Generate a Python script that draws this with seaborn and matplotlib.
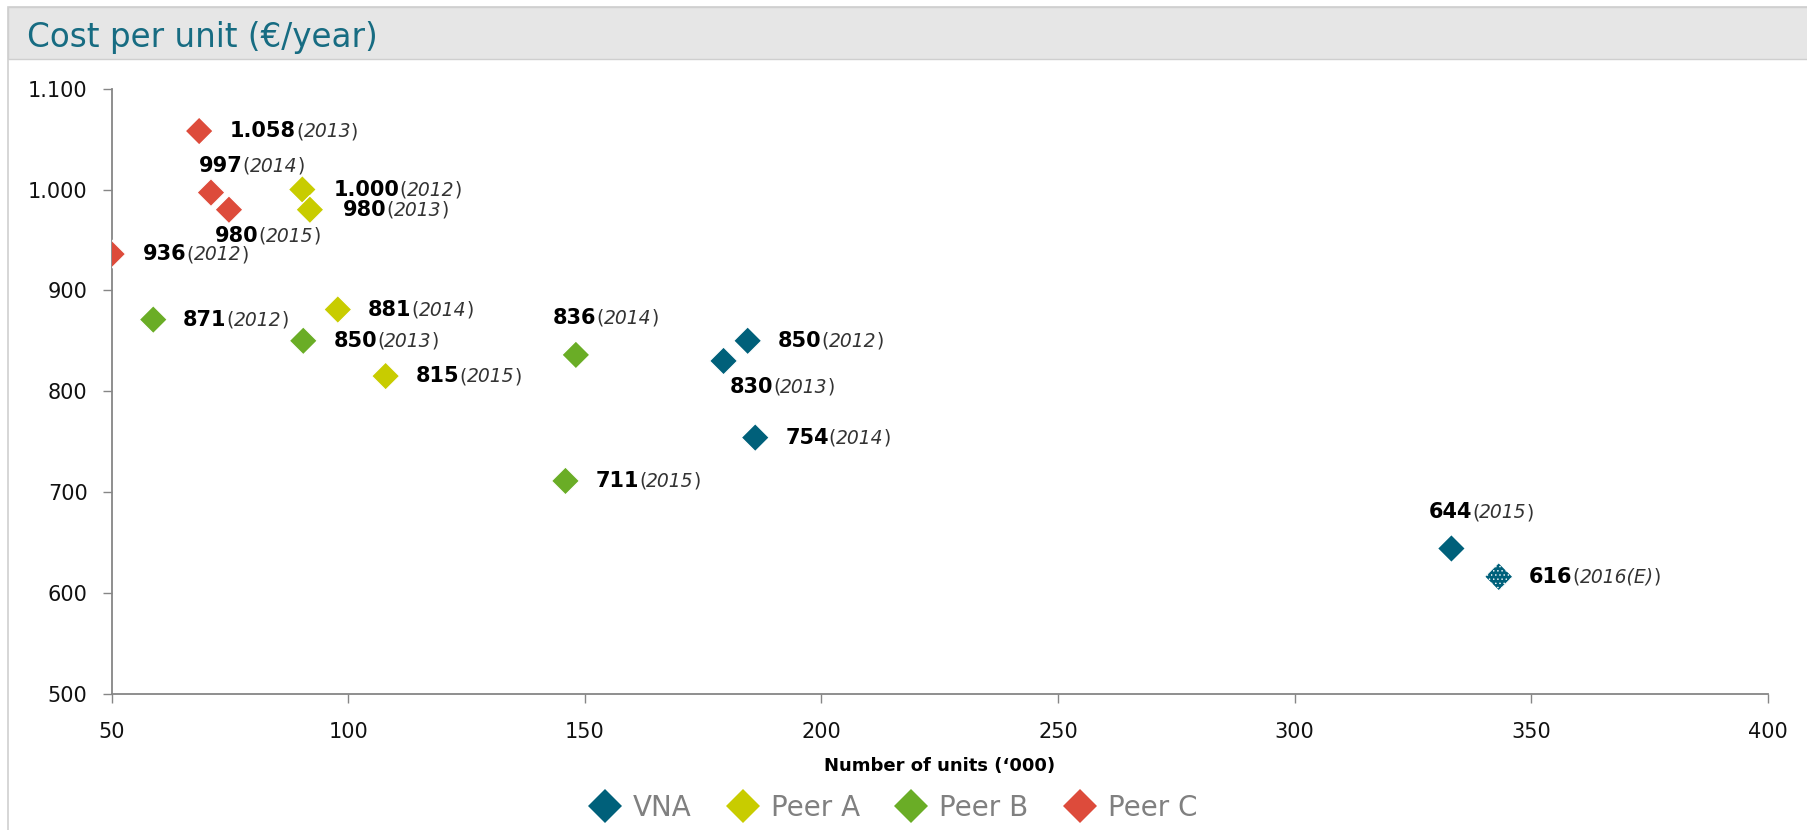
import matplotlib
matplotlib.use("Agg")
import matplotlib.pyplot as plt
from matplotlib.lines import Line2D
from matplotlib.patches import Rectangle
import pandas as pd
import seaborn as sns

# Data
companies = ["VNA", "Peer A", "Peer B", "Peer C"]
years = ["2012", "2013", "2014", "2015"]

vna_units = [184.4, 179.3, 186.0, 333.1]
vna_cost = [850, 830, 754, 644]
peer_a_units = [90.3, 91.9, 97.8, 107.9]
peer_a_cost = [1000, 980, 881, 815]
peer_b_units = [58.8, 90.5, 148.1, 145.9]
peer_b_cost = [871, 850, 836, 711]
peer_c_units = [50.0, 68.5, 71.0, 74.8]
peer_c_cost = [936, 1058, 997, 980]

# VNA estimate for next year (drawn hatched)
est_units = [343.1]
est_cost = [616]
est_years = ["2016(E)"]

x_ticks = [50, 100, 150, 200, 250, 300, 350, 400]
y_ticks = [500, 600, 700, 800, 900, 1000, 1100]

colors = {"VNA": "#00607a", "Peer A": "#c8cc00", "Peer B": "#6aad26", "Peer C": "#dd4b3b"}

# label offsets in pixels (dx from marker to label start, dy up)
label_offsets = {
    "VNA": [(30, 0), (6, -26), (30, 0), (-23, 36)],
    "Peer A": [(31, 0), (33, 0), (30, 0), (30, 0)],
    "Peer B": [(30, 0), (30, 0), (-23, 37), (30, 0)],
    "Peer C": [(31, 0), (31, 0), (-12, 27), (-14, -26)],
}
est_offset = (30, 0)

rows = []
for name, ux, cy in (("VNA", vna_units, vna_cost), ("Peer A", peer_a_units, peer_a_cost),
                     ("Peer B", peer_b_units, peer_b_cost), ("Peer C", peer_c_units, peer_c_cost)):
    for u, c, yr in zip(ux, cy, years):
        rows.append({"company": name, "units": u, "cost": c, "year": yr})
df = pd.DataFrame(rows)
dfEst = pd.DataFrame({"company": "VNA", "units": est_units, "cost": est_cost, "year": est_years})

sns.set_theme(style="white")
plt.rcParams["font.family"] = ["DejaVu Sans"]
plt.rcParams["hatch.color"] = "white"
plt.rcParams["hatch.linewidth"] = 0.5

fig = plt.figure(figsize=(18.07, 8.30), dpi=100)
ax = fig.add_axes([0.06176, 0.16422, 0.91666, 0.72891])

# frame and title bar
fig.patches.append(Rectangle((8 / 1807, -0.1), 1.2, 1.1 - 7.5 / 830, transform=fig.transFigure,
                             facecolor="none", edgecolor="#cfcfcf", linewidth=1.2, zorder=0))
fig.patches.append(Rectangle((8 / 1807, 1 - 59 / 830), 1.2, 51.5 / 830, transform=fig.transFigure,
                             facecolor="#e6e6e6", edgecolor="#cfcfcf", linewidth=1.0, zorder=0))
fig.text(27 / 1807, 1 - 46.7 / 830, "Cost per unit (€/year)", fontsize=23.5, color="#176c82",
         ha="left", va="baseline")

sns.scatterplot(data=df, x="units", y="cost", hue="company", palette=colors, hue_order=companies,
                marker="D", s=205, edgecolor="white", linewidth=1, legend=False, ax=ax, zorder=3)
sns.scatterplot(data=dfEst, x="units", y="cost", color=colors["VNA"], marker="D", s=205,
                edgecolor="white", linewidth=0.8, hatch="....", legend=False, ax=ax, zorder=3)


def label_point(ax, x, y, value, year, dx, dy):
    txt = f"{value:,}".replace(",", ".")
    prev = ax.annotate(txt, xy=(x, y), xytext=(dx, dy), textcoords="offset pixels",
                       ha="left", va="center", fontsize=15, fontweight="bold", color="black")
    for piece, style in (("(", "normal"), (year, "italic"), (")", "normal")):
        prev = ax.annotate(piece, xy=(1, 0), xycoords=prev, ha="left", va="bottom",
                           fontsize=13.5, fontstyle=style, color="#333333")


for _, r in df.iterrows():
    dx, dy = label_offsets[r["company"]][years.index(r["year"])]
    label_point(ax, r["units"], r["cost"], r["cost"], r["year"], dx, dy)
for _, r in dfEst.iterrows():
    label_point(ax, r["units"], r["cost"], r["cost"], r["year"], *est_offset)

ax.set_xlim(50, 400)
ax.set_ylim(500, 1100)
ax.set_xticks(x_ticks)
ax.set_yticks(y_ticks)
ax.set_yticklabels([f"{v:,}".replace(",", ".") for v in y_ticks])
ax.set_xticklabels([str(v) for v in x_ticks])
sns.despine(ax=ax)
for side in ("left", "bottom"):
    ax.spines[side].set_color("#868686")
    ax.spines[side].set_linewidth(1.3)
ax.tick_params(axis="both", direction="out", length=6.3, width=1, color="#868686",
               labelsize=15, labelcolor="#111111", left=True, bottom=True)
ax.tick_params(axis="y", pad=11)
ax.tick_params(axis="x", pad=14)
ax.set_xlabel("Number of units (‘000)", fontsize=13, fontweight="bold", labelpad=11, color="black")
ax.set_ylabel("")

handles = [Line2D([0], [0], marker="D", linestyle="none", markersize=17.5, markeredgewidth=0,
                  markerfacecolor=colors[c]) for c in companies]
fig.legend(handles, companies, loc="center", bbox_to_anchor=(0.4937, 1 - 807.7 / 830), ncol=4,
           frameon=False, fontsize=20, labelcolor="#808080", handlelength=1.3,
           handletextpad=0.35, columnspacing=1.2)

fig.savefig("out.png", dpi=100)
